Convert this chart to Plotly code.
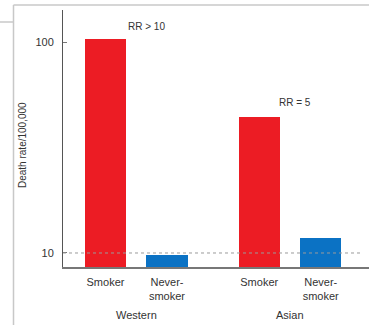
import plotly.graph_objects as go

categories = ["Smoker", "Never-smoker", "Smoker", "Never-smoker"]
tick_labels = ["Smoker", "Never-<br>smoker", "Smoker", "Never-<br>smoker"]
bar_pos = [0, 1, 2.5, 3.5]
death_rates = [103, 9.8, 44, 11.8]
bar_colors = ["#ec1c24", "#0b72c4", "#ec1c24", "#0b72c4"]
groups = ["Western", "Asian"]
group_pos = [0.5, 3.0]
rr_labels = ["RR > 10", "RR = 5"]
rr_pos = [0.67, 3.08]
rr_paper_y = [0.934, 0.642]
y_ticks = [10, 100]

W, H = 369, 325
L, R, T, B = 63, 0, 10, 58
pw, ph = W - L - R, H - T - B

def px(x):
    return (x - L) / pw

def py(y):
    return (H - B - y) / ph

txt = "#333333"
fig = go.Figure()
fig.add_trace(go.Bar(x=bar_pos, y=death_rates, width=0.667,
                     marker=dict(color=bar_colors, line=dict(width=0)),
                     showlegend=False))

fig.update_layout(
    width=W, height=H,
    margin=dict(l=L, r=R, t=T, b=B),
    paper_bgcolor="white", plot_bgcolor="white",
    font=dict(family="Liberation Sans, Arial, sans-serif", size=11, color=txt),
    xaxis=dict(range=[-0.691, 4.285], tickvals=bar_pos, ticktext=tick_labels,
               showgrid=False, zeroline=False, showline=True, linecolor="#777777",
               linewidth=1.5, ticks="", ticklabelstandoff=4,
               tickfont=dict(size=11, color=txt)),
    yaxis=dict(type="log", range=[0.9336, 2.1517], tickvals=y_ticks,
               ticktext=[str(v) for v in y_ticks],
               showgrid=False, zeroline=False, showline=True, linecolor="#555555",
               linewidth=1, ticks="inside", ticklen=4, tickcolor="#777777",
               ticklabelstandoff=6, tickfont=dict(size=11, color=txt)),
    bargap=0,
)

# reference dotted line at 10
fig.add_shape(type="line", xref="paper", yref="y", x0=0, x1=px(362), y0=10, y1=10,
              line=dict(color="#9a9a9a", width=1, dash="dot"))

# page frame lines
frame = "#c8c8c8"
fig.add_shape(type="line", xref="paper", yref="paper", x0=px(13.5), x1=px(13.5),
              y0=py(5), y1=py(325), line=dict(color=frame, width=1.5))
fig.add_shape(type="line", xref="paper", yref="paper", x0=px(13.5), x1=px(369),
              y0=py(5), y1=py(5), line=dict(color=frame, width=1.5))
fig.add_shape(type="line", xref="paper", yref="paper", x0=px(0), x1=px(13.5),
              y0=py(22), y1=py(22), line=dict(color=frame, width=1.5))

# y axis title
fig.add_annotation(text="Death rate/100,000", xref="paper", yref="paper",
                   x=px(22), y=py(145), textangle=-90, showarrow=False,
                   font=dict(size=10, color=txt), xanchor="center", yanchor="middle")

for g, gx in zip(groups, group_pos):
    fig.add_annotation(text=g, xref="x", yref="paper", x=gx, y=py(315),
                       showarrow=False, font=dict(size=11, color=txt),
                       xanchor="center", yanchor="middle")

for t, rx, ry in zip(rr_labels, rr_pos, rr_paper_y):
    fig.add_annotation(text=t, xref="x", yref="paper", x=rx, y=ry,
                       showarrow=False, font=dict(size=10, color=txt),
                       xanchor="center", yanchor="middle")

fig.write_html("out.html",
               config={"displayModeBar": False},
               post_script="document.body.style.margin='0';document.body.style.overflow='hidden';")
